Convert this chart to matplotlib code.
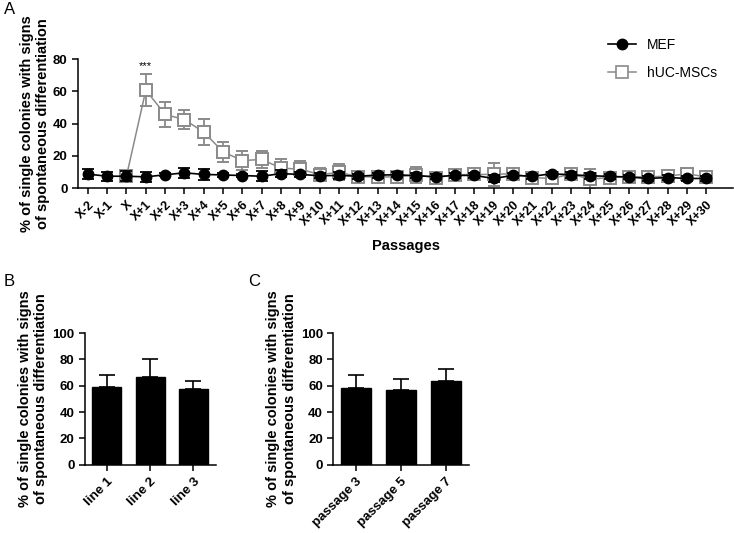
import matplotlib.pyplot as plt
from matplotlib.lines import Line2D
import numpy as np

plt.rcParams['font.family'] = ['Liberation Sans', 'DejaVu Sans']

# Panel A data
passages = ["X-2", "X-1", "X"] + ["X+{}".format(i) for i in range(1, 31)]

mef_mean = [8.7, 7.4, 7.4, 7.0, 8.3, 9.5, 8.5, 8.2, 7.8, 7.4, 9.0, 8.5, 7.7, 7.9, 7.4, 8.1, 8.3,
            7.7, 7.1, 7.9, 7.9, 6.0, 7.9, 7.4, 8.9, 8.3, 7.7, 7.3, 6.9, 6.0, 6.6, 6.0, 6.0]
mef_err = [3.3, 2.7, 3.0, 3.0, 1.0, 3.3, 3.5, 1.0, 1.0, 3.0, 2.0, 1.5, 1.5, 2.0, 1.5, 1.5, 1.5,
           1.5, 1.5, 1.5, 1.5, 2.0, 1.5, 1.5, 1.0, 2.0, 2.0, 1.5, 1.5, 1.5, 1.5, 1.5, 1.5]

huc_mean = [np.nan, np.nan, 7.5, 60.8, 45.7, 42.5, 34.7, 22.5, 17.1, 17.8, 12.4, 11.8, 8.4, 9.8,
            7.2, 6.9, 7.0, 8.3, 6.4, 8.3, 8.5, 8.5, 9.0, 6.6, 6.0, 8.7, 5.6, 6.6, 7.0, 7.0,
            7.4, 8.9, 7.0]
huc_err = [np.nan, np.nan, 2.5, 10.0, 7.7, 5.7, 8.0, 6.0, 6.0, 5.5, 5.6, 5.0, 4.0, 5.0,
           3.0, 2.5, 2.5, 5.0, 2.5, 2.5, 3.0, 7.0, 3.0, 2.5, 2.0, 2.5, 6.0, 2.0, 2.0, 2.0,
           2.5, 3.0, 2.5]

# Panel B data
lines = ["line 1", "line 2", "line 3"]
lines_mean = [59.0, 66.5, 57.5]
lines_err = [9.0, 13.5, 6.0]

# Panel C data
passage_names = ["passage 3", "passage 5", "passage 7"]
passage_mean = [58.5, 56.5, 63.5]
passage_err = [9.5, 8.5, 9.0]

ylab = "% of single colonies with signs\nof spontaneous differentiation"
grey = '#8a8a8a'


def style_axes(ax):
    for side in ['top', 'right']:
        ax.spines[side].set_visible(False)
    for side in ['left', 'bottom']:
        ax.spines[side].set_linewidth(1.1)
    ax.tick_params(direction='out', length=4, width=1.1)
    for lab in ax.get_yticklabels():
        lab.set_fontweight('bold')
        lab.set_fontsize(9.5)


def bar_panel(ax, names, means, errs):
    xb = np.arange(len(names))
    ax.bar(xb, means, width=0.67, color='black', edgecolor='black')
    ax.errorbar(xb, means, yerr=[np.zeros(len(errs)), errs], fmt='none', ecolor='black',
                capsize=6, elinewidth=1.2, capthick=1.2)
    ax.set_xlim(-0.5, 2.52)
    ax.set_ylim(0, 100)
    ax.set_yticks([0, 20, 40, 60, 80, 100])
    ax.set_xticks(xb)
    ax.set_xticklabels(names, rotation=45, ha='right', rotation_mode='anchor',
                       fontsize=9.5, fontweight='bold')
    style_axes(ax)
    ax.set_ylabel(ylab, fontsize=10.5, fontweight='bold', linespacing=1.2, labelpad=3)


def main():
    fig = plt.figure(figsize=(7.34, 5.33), dpi=100)

    # ---------------- Panel A ----------------
    axA = fig.add_axes([0.106, 0.647, 0.893, 0.242])
    x = np.arange(len(passages))
    axA.errorbar(x, huc_mean, yerr=huc_err, color=grey, lw=1.1, marker='s', ms=8.5,
                 mfc='white', mec=grey, mew=1.4, capsize=4, elinewidth=1.3, capthick=1.3,
                 zorder=2)
    axA.errorbar(x, mef_mean, yerr=mef_err, color='black', lw=1.2, marker='o', ms=7.5,
                 capsize=4, elinewidth=1.3, capthick=1.3, zorder=3)
    axA.set_xlim(-0.52, 33.4)
    axA.set_ylim(0, 80)
    axA.set_yticks([0, 20, 40, 60, 80])
    axA.set_xticks(x)
    axA.set_xticklabels(passages, rotation=45, ha='right', rotation_mode='anchor',
                        fontsize=9, fontweight='bold')
    style_axes(axA)
    axA.set_xlabel("Passages", fontsize=10.5, fontweight='bold', labelpad=8)
    axA.set_ylabel(ylab, fontsize=10.5, fontweight='bold', linespacing=1.2, labelpad=2)
    axA.text(3, 76, "***", ha='center', va='center', fontsize=8)

    handles = [Line2D([], [], color='black', lw=1.2, marker='o', ms=7.5),
               Line2D([], [], color=grey, lw=1.1, marker='s', ms=8.5, mfc='white', mec=grey,
                      mew=1.2)]
    axA.legend(handles, ["MEF", "hUC-MSCs"], loc='upper left', bbox_to_anchor=(0.79, 1.26),
               frameon=False, fontsize=10, handlelength=2.0, labelspacing=1.0)

    # ---------------- Panel B ----------------
    axB = fig.add_axes([0.116, 0.128, 0.178, 0.247])
    bar_panel(axB, lines, lines_mean, lines_err)

    # ---------------- Panel C ----------------
    axC = fig.add_axes([0.454, 0.128, 0.185, 0.247])
    bar_panel(axC, passage_names, passage_mean, passage_err)

    # panel letters
    fig.text(0.005, 0.997, "A", fontsize=12, va='top')
    fig.text(0.005, 0.485, "B", fontsize=12, va='top')
    fig.text(0.338, 0.485, "C", fontsize=12, va='top')

    fig.savefig("out.png", dpi=100)


if __name__ == '__main__':
    main()
